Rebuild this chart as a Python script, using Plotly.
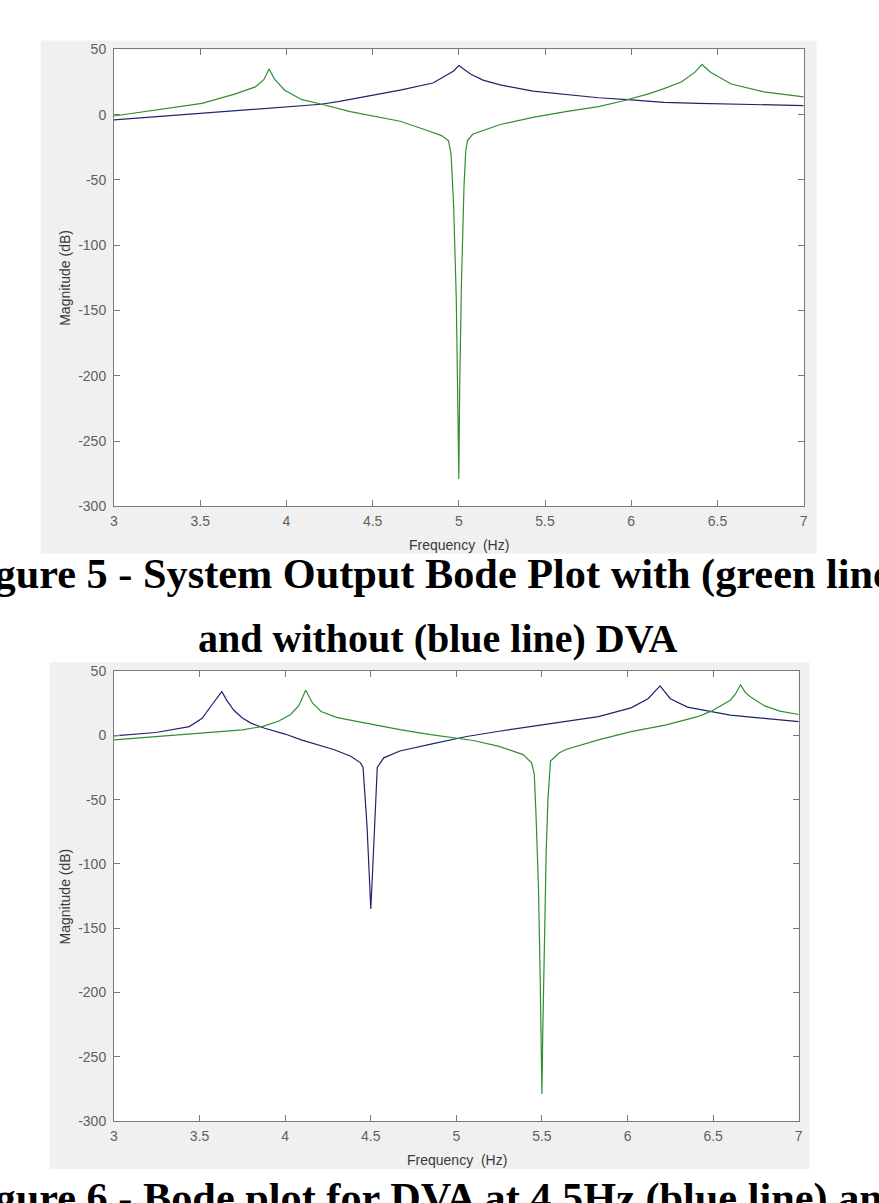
import plotly.graph_objects as go

W, H = 879, 1203

# ---------------- data ----------------
# Figure 5: without DVA (blue) and with DVA (green)
f5_blue_freq = [3.00, 3.25, 3.50, 3.75, 4.00, 4.20, 4.30, 4.47, 4.66, 4.85, 4.93, 4.97, 5.00,
                5.03, 5.07, 5.14, 5.24, 5.43, 5.62, 5.81, 6.00, 6.19, 6.39, 6.67, 7.00]
f5_blue_mag = [-3.9, -1.3, 1.1, 3.8, 6.2, 8.0, 10.0, 14.2, 18.8, 24.3, 30.0, 33.5, 37.7,
               35.0, 31.0, 26.5, 22.8, 18.0, 15.5, 13.0, 11.4, 9.5, 8.7, 8.0, 7.0]

f5_green_freq = [3.00, 3.22, 3.51, 3.70, 3.82, 3.87, 3.90, 3.93, 3.99, 4.09, 4.20, 4.37, 4.50,
                 4.66, 4.83, 4.90, 4.94, 4.955, 4.97, 4.985, 4.995, 5.00, 5.005, 5.015, 5.03,
                 5.04, 5.05, 5.08, 5.24, 5.43, 5.62, 5.81, 5.95, 6.10, 6.19, 6.29, 6.37, 6.41,
                 6.46, 6.58, 6.77, 7.00]
f5_green_mag = [-1.0, 3.0, 8.7, 15.8, 21.3, 27.0, 35.0, 27.5, 18.8, 11.5, 8.2, 2.4, -1.0,
                -5.0, -12.7, -16.0, -20.0, -30.0, -70.0, -140.0, -230.0, -279.0, -210.0, -130.0, -55.0,
                -28.0, -20.0, -15.0, -7.5, -2.0, 2.4, 6.2, 10.5, 16.0, 20.0, 25.0, 32.6, 38.5,
                32.6, 23.5, 17.5, 13.7]

# Figure 6: DVA at 4.5 Hz (blue) and 5.5 Hz (green)
f6_blue_freq = [3.00, 3.245, 3.44, 3.515, 3.57, 3.60, 3.63, 3.66, 3.70, 3.75, 3.80, 3.88, 4.00,
                4.094, 4.20, 4.287, 4.383, 4.44, 4.455, 4.465, 4.478, 4.49, 4.50, 4.51, 4.52,
                4.53, 4.538, 4.576, 4.67, 4.865, 5.00, 5.06, 5.25, 5.44, 5.64, 5.83, 6.02, 6.12,
                6.19, 6.25, 6.35, 6.49, 6.60, 6.80, 7.00]
f6_blue_mag = [-0.4, 2.2, 6.8, 13.2, 23.4, 29.0, 34.0, 27.0, 19.5, 13.5, 9.5, 5.5, 1.0,
               -3.5, -7.5, -11.2, -16.3, -21.4, -25.0, -45.0, -70.0, -105.0, -135.0, -108.0, -75.0,
               -45.0, -25.0, -17.5, -12.2, -6.5, -2.7, -0.9, 3.2, 6.8, 10.6, 14.5, 21.4, 28.5,
               38.5, 28.5, 22.0, 18.8, 15.7, 13.2, 10.6]

f6_green_freq = [3.00, 3.245, 3.50, 3.63, 3.75, 3.87, 3.96, 4.03, 4.08, 4.12, 4.16, 4.21, 4.30,
                 4.38, 4.50, 4.67, 4.85, 5.00, 5.10, 5.25, 5.39, 5.44, 5.455, 5.465, 5.48, 5.49,
                 5.495, 5.50, 5.505, 5.515, 5.525, 5.535, 5.55, 5.60, 5.64, 5.83, 6.02, 6.22,
                 6.41, 6.49, 6.60, 6.63, 6.66, 6.69, 6.72, 6.80, 6.89, 7.00]
f6_green_mag = [-3.5, -0.9, 1.5, 2.7, 4.3, 7.0, 11.0, 16.0, 23.0, 35.0, 25.0, 18.5, 14.0,
                11.9, 8.7, 4.5, 0.5, -2.2, -4.0, -8.6, -15.0, -21.4, -30.0, -60.0, -120.0, -190.0,
                -255.0, -279.0, -230.0, -150.0, -90.0, -50.0, -20.0, -13.7, -11.0, -3.5, 2.9, 8.0,
                14.5, 18.8, 27.3, 32.0, 39.3, 33.0, 29.8, 22.9, 18.8, 16.2]

x_tick_vals = [3, 3.5, 4, 4.5, 5, 5.5, 6, 6.5, 7]
x_tick_text = ["3", "3.5", "4", "4.5", "5", "5.5", "6", "6.5", "7"]
y_tick_vals = [50, 0, -50, -100, -150, -200, -250, -300]
y_tick_text = ["50", "0", "-50", "-100", "-150", "-200", "-250", "-300"]

x_title = "Frequency\u00a0 (Hz)"
y_title = "Magnitude (dB)"
caption5_line1 = "Figure 5 - System Output Bode Plot with (green line)"
caption5_line2 = "and without (blue line) DVA"
caption6 = "Figure 6 - Bode plot for DVA at 4.5Hz (blue line) and 5.5Hz (green line)"

# ---------------- style ----------------
BLUE = "#22226e"
GREEN = "#2f8f2f"
AXC = "#7a7a7a"
TICKC = "#606060"
GRAY_BG = "#f0f0f0"
TICK_FONT = dict(family="Liberation Sans, Arial, sans-serif", size=14, color=TICKC)
LABEL_FONT = dict(family="Liberation Sans, Arial, sans-serif", size=14, color="#3a3a3a")
CAP_FONT_WIDE = dict(family="Liberation Serif, Times New Roman, serif", size=42.3, color="#000000")
CAP_FONT = dict(family="Liberation Serif, Times New Roman, serif", size=40, color="#000000")


def px_x(p):
    return p / W


def px_y(p):
    return 1 - p / H


fig = go.Figure()
fig.add_trace(go.Scatter(x=f5_blue_freq, y=f5_blue_mag, mode="lines",
                         line=dict(color=BLUE, width=1.2), xaxis="x", yaxis="y"))
fig.add_trace(go.Scatter(x=f5_green_freq, y=f5_green_mag, mode="lines",
                         line=dict(color=GREEN, width=1.2), xaxis="x", yaxis="y"))
fig.add_trace(go.Scatter(x=f6_blue_freq, y=f6_blue_mag, mode="lines",
                         line=dict(color=BLUE, width=1.2), xaxis="x2", yaxis="y2"))
fig.add_trace(go.Scatter(x=f6_green_freq, y=f6_green_mag, mode="lines",
                         line=dict(color=GREEN, width=1.2), xaxis="x2", yaxis="y2"))

common_x = dict(range=[3, 7], tickvals=x_tick_vals, ticktext=x_tick_text, showline=True,
                linecolor=AXC, linewidth=1, mirror="ticks", ticks="inside", ticklen=6,
                tickcolor=AXC, showgrid=False, zeroline=False, tickfont=TICK_FONT,
                ticklabelstandoff=2)
common_y = dict(range=[-300, 50], tickvals=y_tick_vals, ticktext=y_tick_text, showline=True,
                linecolor=AXC, linewidth=1, mirror="ticks", ticks="inside", ticklen=6,
                tickcolor=AXC, showgrid=False, zeroline=False, tickfont=TICK_FONT,
                ticklabelstandoff=4)

fig.update_layout(
    width=W, height=H, margin=dict(l=0, r=0, t=0, b=0),
    paper_bgcolor="white", plot_bgcolor="white", showlegend=False,
    xaxis=dict(domain=[px_x(111), px_x(807)], anchor="y", **common_x),
    yaxis=dict(domain=[px_y(505), px_y(42)], anchor="x", **common_y),
    xaxis2=dict(domain=[px_x(111), px_x(802)], anchor="y2", **common_x),
    yaxis2=dict(domain=[px_y(1128), px_y(672)], anchor="x2", **common_y),
)

shapes = [
    dict(type="rect", xref="paper", yref="paper", x0=px_x(37), x1=px_x(820),
         y0=px_y(553), y1=px_y(33), fillcolor=GRAY_BG, line=dict(width=0), layer="below"),
    dict(type="rect", xref="x domain", yref="y domain", x0=0, x1=1, y0=0, y1=1,
         fillcolor="white", line=dict(width=0), layer="below"),
    dict(type="rect", xref="paper", yref="paper", x0=px_x(46), x1=px_x(813),
         y0=px_y(1177), y1=px_y(663), fillcolor=GRAY_BG, line=dict(width=0), layer="below"),
    dict(type="rect", xref="x2 domain", yref="y2 domain", x0=0, x1=1, y0=0, y1=1,
         fillcolor="white", line=dict(width=0), layer="below"),
]
fig.update_layout(shapes=shapes)

ann = [
    dict(text=x_title, xref="paper", yref="paper", x=px_x(459), y=px_y(544),
         xanchor="center", yanchor="middle", showarrow=False, font=LABEL_FONT),
    dict(text=x_title, xref="paper", yref="paper", x=px_x(457), y=px_y(1168),
         xanchor="center", yanchor="middle", showarrow=False, font=LABEL_FONT),
    dict(text=y_title, xref="paper", yref="paper", x=px_x(62), y=px_y(273),
         xanchor="center", yanchor="middle", showarrow=False, textangle=-90, font=LABEL_FONT),
    dict(text=y_title, xref="paper", yref="paper", x=px_x(62), y=px_y(900),
         xanchor="center", yanchor="middle", showarrow=False, textangle=-90, font=LABEL_FONT),
    dict(text="<b>" + caption5_line1 + "</b>", xref="paper", yref="paper", x=px_x(-49),
         y=px_y(574), xanchor="left", yanchor="middle", showarrow=False, font=CAP_FONT_WIDE),
    dict(text="<b>" + caption5_line2 + "</b>", xref="paper", yref="paper", x=px_x(437),
         y=px_y(639), xanchor="center", yanchor="middle", showarrow=False, font=CAP_FONT),
    dict(text="<b>" + caption6 + "</b>", xref="paper", yref="paper", x=px_x(-49),
         y=px_y(1206), xanchor="left", yanchor="middle", showarrow=False, font=CAP_FONT_WIDE),
]
fig.update_layout(annotations=ann)

fig.write_html("out.html")
